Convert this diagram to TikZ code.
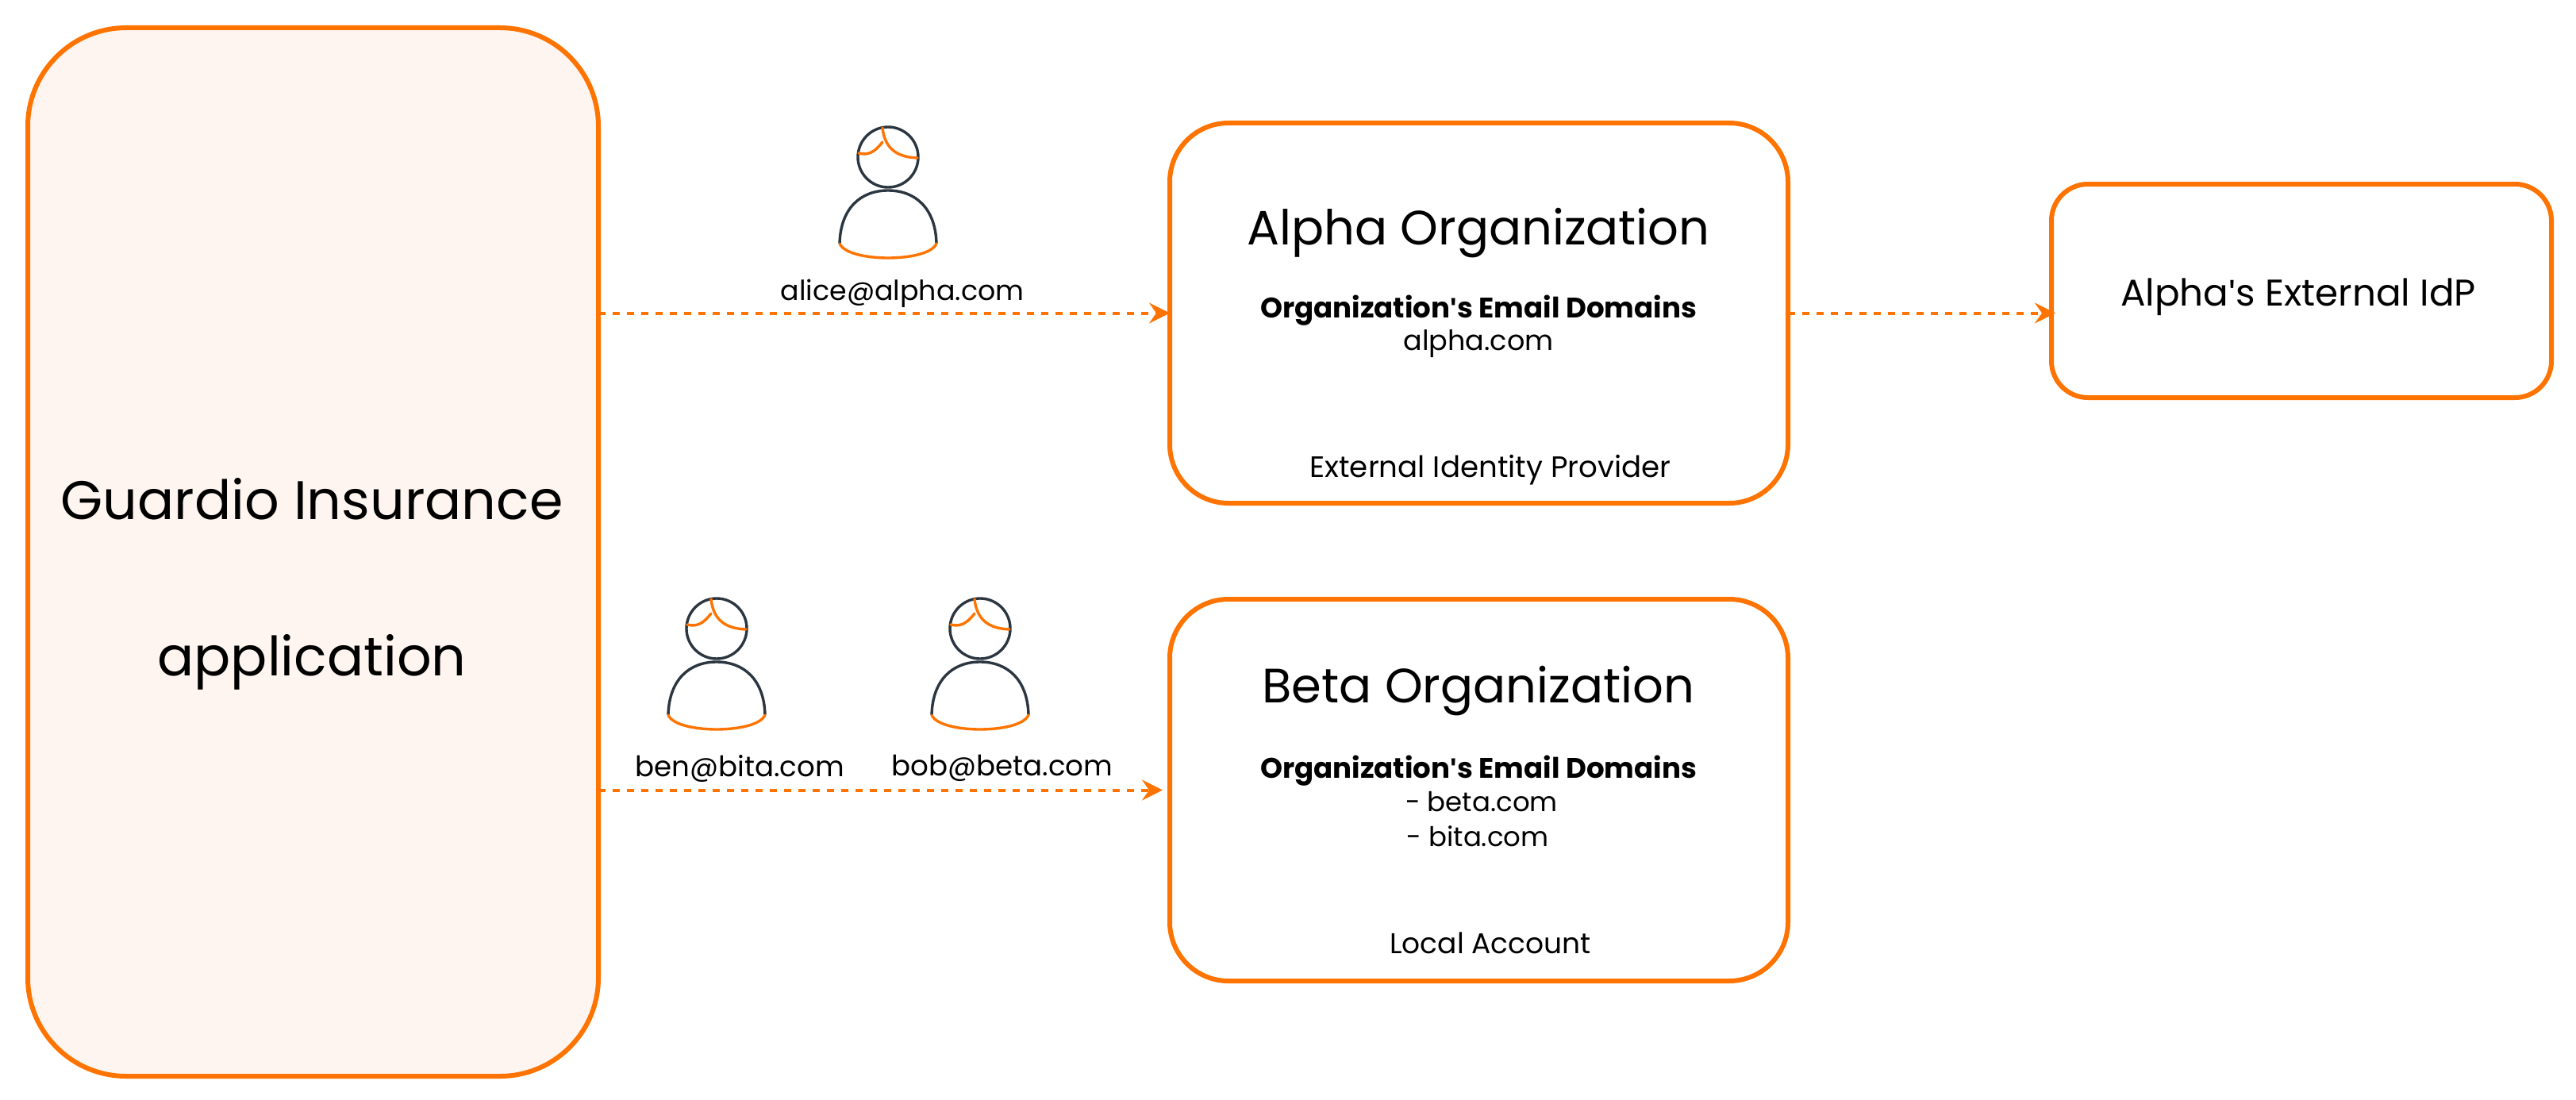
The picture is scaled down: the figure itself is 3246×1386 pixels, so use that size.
\documentclass[tikz,border=0pt]{standalone}
\usepackage{fontspec}
\setmainfont{Poppins}
\newfontfamily\aposfont{Liberation Sans}
\usetikzlibrary{arrows.meta,calc}
\definecolor{org}{HTML}{FF7300}
\definecolor{ink}{HTML}{2B3640}
\definecolor{tint}{HTML}{FEF5F0}
\newcommand{\fs}[1]{\fontsize{#1}{#1}\selectfont}
\newcommand{\apos}{{\aposfont\char"27}}
\tikzset{
  x=0.5pt,y=-0.5pt,
  box/.style={draw=org,line width=3pt,outer sep=0pt,inner sep=0pt,rounded corners=#1},
  box/.default=37pt,
  lbl/.style={inner sep=0pt,text=black,anchor=center},
  flow/.style={draw=org,line width=2pt,dash pattern=on 4.7pt off 4.3pt,-{Stealth[length=13pt,width=13pt,inset=4.5pt,fill=org]}},
  headline/.style={draw=ink,line width=1.7pt},
  accent/.style={draw=org,line width=1.7pt,line cap=round},
  pics/person/.style={code={
    \draw[headline] (0,0) circle (38);
    \draw[headline] (-61,109) .. controls (-60,65) and (-35,42) .. (0,42) .. controls (35,42) and (60,65) .. (61,109);
    \draw[accent] (-61,109) .. controls (-55,122) and (-25,127) .. (0,127) .. controls (25,127) and (55,122) .. (61,109);
    \draw[accent] (-7,-37) .. controls (-4,-10) and (12,0) .. (37,1);
    \draw[accent] (-7,-19) .. controls (-17,-6) and (-25,-2) .. (-37,-5);
  }}
}
\begin{document}
\begin{tikzpicture}
\useasboundingbox (0,0) rectangle (3246,1386);
\node[box=62pt,fill=tint,minimum width=359.5pt,minimum height=660.5pt] (guardio) at (394.5,695.5) {};
\node[box,minimum width=389.5pt,minimum height=239.5pt] (alpha) at (1863.5,394.5) {};
\node[box,minimum width=389.5pt,minimum height=240.5pt] (beta) at (1863.5,995.5) {};
\node[box=23pt,minimum width=315pt,minimum height=134.5pt] (idp) at (2900,366.5) {};

\node[lbl] (g1) at (393,629) {\fs{34.2}Guardio Insurance};
\node[lbl] (g2) at (393,834) {\fs{34.2}application};
\node[lbl] (a1) at (1863,294) {\fs{30.4}Alpha Organization};
\node[lbl] (a2) at (1863,391) {\fs{17.8}\bfseries Organization\apos s Email Domains};
\node[lbl] (a3) at (1863,433) {\fs{17.5}alpha.com};
\node[lbl] (a4) at (1878,592) {\fs{18.6}External Identity Provider};
\node[lbl] (b1) at (1863,871) {\fs{30.4}Beta Organization};
\node[lbl] (b2) at (1863,971) {\fs{17.8}\bfseries Organization\apos s Email Domains};
\node[lbl] (b3) at (1867,1010) {\fs{17}- beta.com};
\node[lbl] (b4) at (1862,1054) {\fs{17}- bita.com};
\node[lbl] (b5) at (1878,1188) {\fs{18}Local Account};
\node[lbl] (i1) at (2896,374) {\fs{23.4}Alpha\apos s External IdP};
\node[lbl] (u1) at (1137,370) {\fs{17.4}alice@alpha.com};
\node[lbl] (u2) at (932,968) {\fs{17.8}ben@bita.com};
\node[lbl] (u3) at (1263,968) {\fs{17.8}bob@beta.com};

\pic at (1119,198) {person};
\pic at (903,792) {person};
\pic at (1235,792) {person};

\draw[flow] (guardio.east |- alpha.west) -- (alpha.west);
\draw[flow,shorten >=4.5pt] (guardio.east |- beta.west) -- (beta.west);
\draw[flow,shorten >=-2.5pt] (alpha.east) -- (alpha.east -| idp.west);
\end{tikzpicture}
\end{document}
